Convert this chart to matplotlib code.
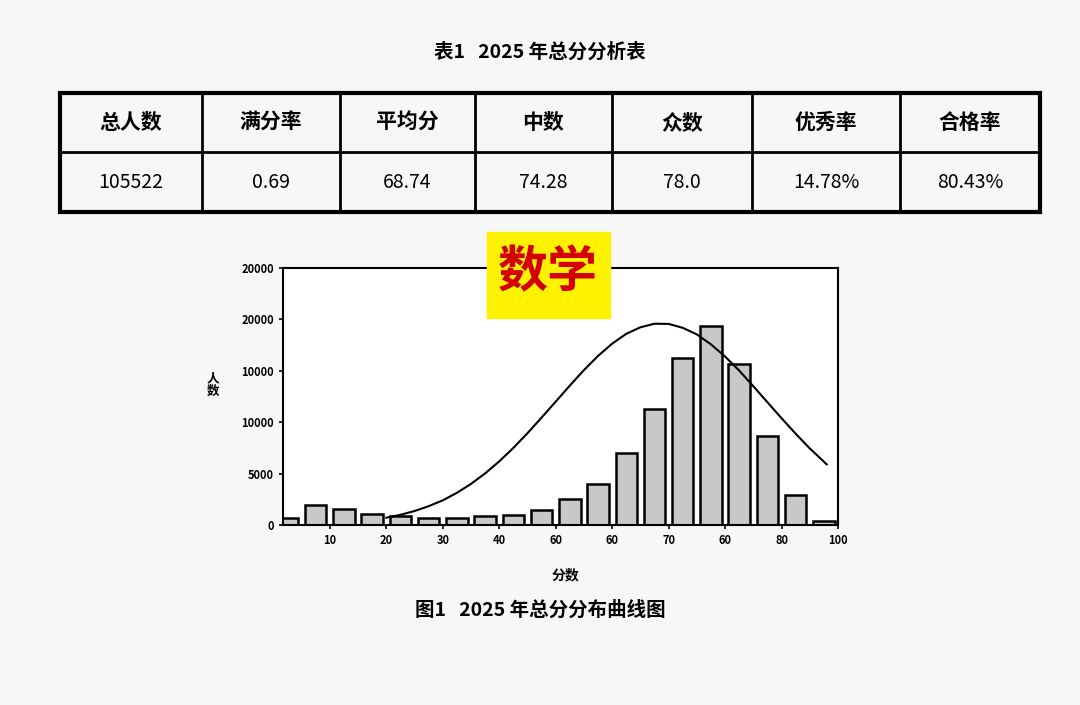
import matplotlib.pyplot as plt
import matplotlib.patches as mpatches

plt.rcParams['font.family'] = ['Noto Sans CJK SC', 'DejaVu Sans']

table_head = ["总人数", "满分率", "平均分", "中数", "众数", "优秀率", "合格率"]
table_vals = ["105522", "0.69", "68.74", "74.28", "78.0", "14.78%", "80.43%"]
col_edges = [60, 202, 340, 475, 612, 752, 900, 1040]

bar_x = [2.5, 7.5, 12.5, 17.5, 22.5, 27.5, 32.5, 37.5, 42.5, 47.5,
         52.5, 57.5, 62.5, 67.5, 72.5, 77.5, 82.5, 87.5, 92.5, 97.5]
bar_h = [700, 1900, 1600, 1100, 900, 700, 700, 850, 1000, 1500,
         2500, 4000, 7000, 11300, 16200, 19400, 15700, 8700, 2900, 400]

# curve
curve_x = [20, 22.5, 25, 27.5, 30, 32.5, 35, 37.5, 40, 42.5, 45, 47.5, 50, 52.5,
           55, 57.5, 60, 62.5, 65, 67.5, 70, 72.5, 75, 77.5, 80, 82.5, 85,
           87.5, 90, 92.5, 95, 98]
curve_y = [710, 990, 1360, 1830, 2400, 3130, 4000, 5020, 6190, 7500, 8930, 10450,
           12000, 13560, 15070, 16450, 17640, 18600, 19230, 19580, 19560, 19180,
           18540, 17570, 16390, 15020, 13500, 11940, 10390, 8880, 7450, 5900]

y_ticks = [0, 5000, 10000, 15000, 20000, 25000]
y_labels = ["0", "5000", "10000", "10000", "20000", "20000"]
x_ticks = [10, 20, 30, 40, 50, 60, 70, 80, 90, 100]
x_labels = ["10", "20", "30", "40", "60", "60", "70", "60", "80", "100"]

W, H = 1080, 705
fig = plt.figure(figsize=(W / 100, H / 100), dpi=100, facecolor="#f7f7f7")

ov = fig.add_axes([0, 0, 1, 1])
ov.set_xlim(0, W)
ov.set_ylim(H, 0)
ov.axis("off")

ov.text(540, 52, "表1   2025 年总分分析表", ha="center", va="center", fontsize=14, weight="bold")
top, mid, bot = 93, 152, 212
ov.add_patch(mpatches.Rectangle((60, top), 980, bot - top, fill=False, lw=3, ec="black"))
ov.plot([60, 1040], [mid, mid], color="black", lw=2)
for e in col_edges[1:-1]:
    ov.plot([e, e], [top, bot], color="black", lw=2)
for i in range(7):
    cx = (col_edges[i] + col_edges[i + 1]) / 2
    ov.text(cx, (top + mid) / 2, table_head[i], ha="center", va="center", fontsize=15, weight="bold")
    ov.text(cx, (mid + bot) / 2, table_vals[i], ha="center", va="center", fontsize=14)

ov.text(540, 610, "图1   2025 年总分分布曲线图", ha="center", va="center", fontsize=14, weight="bold")
ov.text(565, 575, "分数", ha="center", va="center", fontsize=10, weight="bold")
ov.text(213, 385, "人\n数", ha="center", va="center", fontsize=9, weight="bold", linespacing=0.9)

ax = fig.add_axes([283 / W, 1 - 525 / H, (838 - 283) / W, (525 - 268) / H])
ax.set_facecolor("white")
ax.bar(bar_x, bar_h, width=3.8, color="#c8c8c8", edgecolor="black", linewidth=1.8)
ax.plot(curve_x, curve_y, color="black", lw=1.5)
ax.set_xlim(1.7, 100)
ax.set_ylim(0, 25000)
ax.set_yticks(y_ticks)
ax.set_yticklabels(y_labels, fontsize=8, weight="bold")
ax.set_xticks(x_ticks)
ax.set_xticklabels(x_labels, fontsize=8, weight="bold")
ax.tick_params(length=3, width=1.2)
for s in ax.spines.values():
    s.set_linewidth(1.5)

# subject badge on top of the chart
tag = fig.add_axes([0, 0, 1, 1])
tag.set_xlim(0, W)
tag.set_ylim(H, 0)
tag.axis("off")
tag.add_patch(mpatches.Rectangle((487, 232), 123, 86, color="#fff200"))
tag.text(548, 273, "数学", ha="center", va="center", fontsize=36, weight="bold", color="#d40000")

fig.savefig("out.png", dpi=100, facecolor=fig.get_facecolor())
